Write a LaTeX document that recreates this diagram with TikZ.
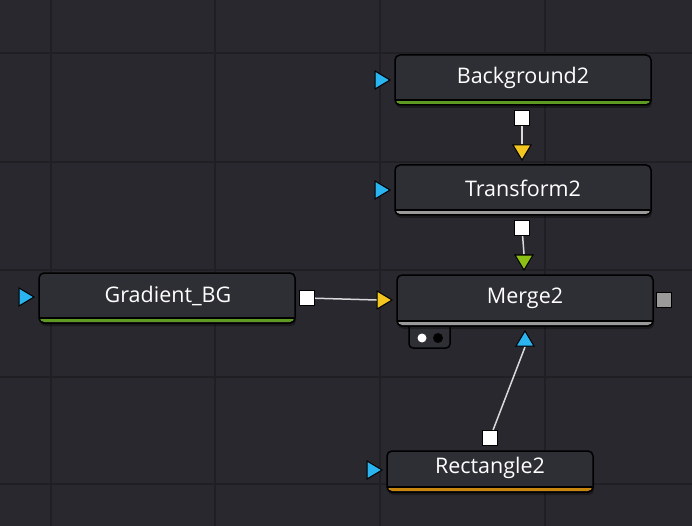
\documentclass[tikz,border=0pt]{standalone}
\usepackage{fontspec}
\setmainfont{Open Sans}
\begin{document}
\begin{tikzpicture}[x=1pt,y=-1pt,
  lbl/.style={text=white,font=\fontsize{21.5}{24}\selectfont},
  inp/.style={draw=black,line width=1pt,fill=#1},
  outsq/.style={draw=black,line width=1.2pt,fill=#1,minimum size=15pt,inner sep=0pt,rectangle},
  link/.style={draw=white!85!black,line width=1.5pt}]
\definecolor{bg}{HTML}{28282E}
\definecolor{gridc}{HTML}{202024}
\definecolor{nodefill}{HTML}{2E2F35}
\definecolor{cblue}{HTML}{2AB4F0}
\definecolor{cyel}{HTML}{F2C61F}
\definecolor{cgreen}{HTML}{8CC014}
\definecolor{bgreen}{HTML}{5E9A22}
\definecolor{bgrey}{HTML}{9A9A9A}
\definecolor{borange}{HTML}{C8860E}
\fill[bg] (0,0) rectangle (692,526);
\useasboundingbox (0,0) rectangle (692,526);
\foreach \x in {51,215,380,545} \draw[gridc,line width=2pt] (\x,0) -- (\x,526);
\foreach \y in {53,162,270,377,484} \draw[gridc,line width=2pt] (0,\y) -- (692,\y);
\newcommand\fnode[6]{% name, x1,y1,x2,y2, barcolor
  \begin{scope}
  \fill[black,opacity=0.35,rounded corners=5pt] (#2+1,#3+3) rectangle (#4+1,#5+3);
  \fill[nodefill,rounded corners=5pt] (#2,#3) rectangle (#4,#5);
  \fill[#6,rounded corners=4pt] (#2+1,#5-6) rectangle (#4-1,#5-1);
  \fill[nodefill] (#2+1,#5-7) rectangle (#4-1,#5-5);
  \draw[black,line width=1.5pt] (#2+1,#5-5) -- (#4-1,#5-5);
  \draw[black,line width=1.5pt,rounded corners=5pt] (#2,#3) rectangle (#4,#5);
  \node[minimum width={#4-#2},minimum height={#5-#3},inner sep=0pt] (#1) at ({(#2+#4)/2},{(#3+#5)/2}) {};
  \end{scope}}
% Merge2 tab
\draw[black,line width=1.5pt,fill=nodefill,rounded corners=4pt] (409,318) rectangle (450,348);
\fnode{bg2}{395}{55}{651}{105}{bgreen}
\fnode{tr2}{395}{165}{651}{215}{bgrey}
\fnode{grad}{39}{273}{295}{323}{bgreen}
\fnode{mrg}{397}{275}{653}{326}{bgrey}
\fnode{rect}{387}{451}{593}{492}{borange}
\node[lbl] (t1) at (523,78) {Background2};
\node[lbl] (t2) at (523,188) {Transform2};
\node[lbl] (t3) at (168,296) {Gradient\_BG};
\node[lbl] (t4) at (525,298) {Merge2};
\node[lbl] (t5) at (490,468) {Rectangle2};
\fill[white] (422,338) circle (4.5);
\fill[black] (438,338) circle (5);
\node[outsq=white] (o1) at (522,118) {};
\node[outsq=white] (o2) at (522,228) {};
\node[outsq=white] (o3) at (307,298) {};
\node[outsq=bgrey] (o4) at (664,300) {};
\node[outsq=white] (o5) at (490,438) {};
\coordinate (i1) at (522,144);
\coordinate (i2) at (524,254);
\coordinate (i3) at (377,300);
\coordinate (i4) at (525,347);
\draw[link] (o1) -- (i1);
\draw[link] (o2) -- (i2);
\draw[link] (o3) -- (i3);
\draw[link] (o5) -- (i4);
\draw[inp=cyel] (513,145) -- (531,145) -- (522,160) -- cycle;
\draw[inp=cgreen] (515,255) -- (533,255) -- (524,270) -- cycle;
\draw[inp=cyel] (377,291) -- (392,300) -- (377,309) -- cycle;
\draw[inp=cblue] (516,346) -- (534,346) -- (525,331) -- cycle;
\draw[inp=cblue] (375,71) -- (390,80) -- (375,89) -- cycle;
\draw[inp=cblue] (375,181) -- (390,190) -- (375,199) -- cycle;
\draw[inp=cblue] (19,288) -- (34,297) -- (19,306) -- cycle;
\draw[inp=cblue] (367,461) -- (382,470) -- (367,479) -- cycle;
\end{tikzpicture}
\end{document}
